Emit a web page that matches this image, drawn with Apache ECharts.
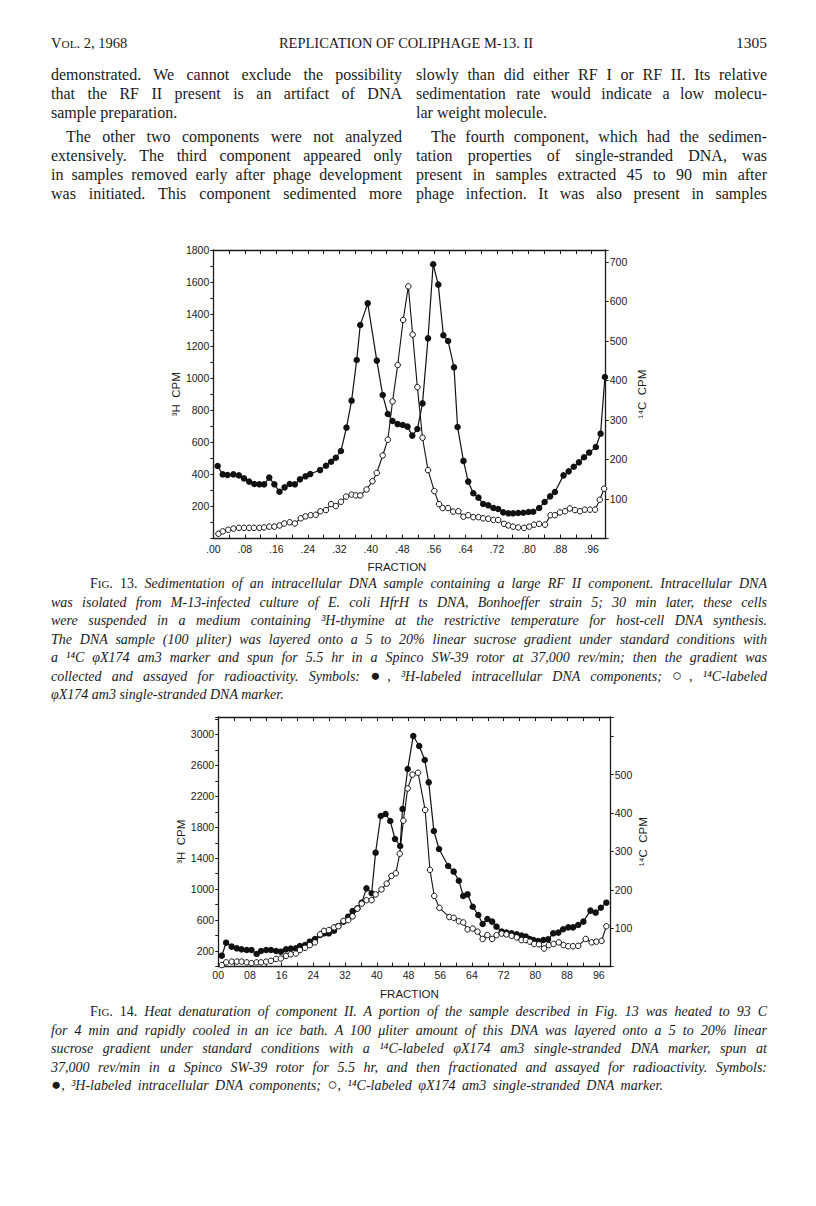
<!DOCTYPE html>
<html>
<head>
<meta charset="utf-8">
<script src="https://cdn.jsdelivr.net/npm/echarts@6/dist/echarts.min.js"></script>
<style>
  html, body { margin:0; padding:0; background:#fff; }
  #page { position:relative; width:816px; height:1206px; overflow:hidden; background:#fff; }
  #chart { position:absolute; left:0; top:0; width:816px; height:1206px; }
  .t { position:absolute; white-space:nowrap; color:#1a1a1a; font-family:'Liberation Serif','Times New Roman',serif; }
  .body { font-size:16px; line-height:19px; height:19px; text-align:justify; text-align-last:justify; }
  .cap { font-size:14px; line-height:18px; height:18px; font-style:italic; text-align:justify; text-align-last:justify; }
  .left { text-align:left; text-align-last:left; }
  .sc { font-size:0.78em; }
  .up { font-style:normal; }
  .sym { font-style:normal; font-size:1.2em; line-height:0; }
</style>
</head>
<body>
<div id="page">
  <div id="chart"></div>

  <div class="t" style="left:51px;top:35px;font-size:14.5px;">V<span class="sc">OL</span>. 2, 1968</div>
  <div class="t" style="left:206px;width:400px;top:35px;font-size:14.5px;text-align:center;">REPLICATION OF COLIPHAGE M-13. II</div>
  <div class="t" style="left:667px;width:100px;top:34px;font-size:15.5px;text-align:right;">1305</div>

  <div class="t body" style="left:51px;width:351px;top:65px;">demonstrated. We cannot exclude the possibility</div>
  <div class="t body" style="left:51px;width:351px;top:84px;">that the RF II present is an artifact of DNA</div>
  <div class="t body left" style="left:51px;width:351px;top:103px;">sample preparation.</div>
  <div class="t body" style="left:66px;width:336px;top:127px;">The other two components were not analyzed</div>
  <div class="t body" style="left:51px;width:351px;top:146px;">extensively. The third component appeared only</div>
  <div class="t body" style="left:51px;width:351px;top:165px;">in samples removed early after phage development</div>
  <div class="t body" style="left:51px;width:351px;top:184px;">was initiated. This component sedimented more</div>

  <div class="t body" style="left:416px;width:351px;top:65px;">slowly than did either RF I or RF II. Its relative</div>
  <div class="t body" style="left:416px;width:351px;top:84px;">sedimentation rate would indicate a low molecu-</div>
  <div class="t body left" style="left:416px;width:351px;top:103px;">lar weight molecule.</div>
  <div class="t body" style="left:431px;width:336px;top:127px;">The fourth component, which had the sedimen-</div>
  <div class="t body" style="left:416px;width:351px;top:146px;">tation properties of single-stranded DNA, was</div>
  <div class="t body" style="left:416px;width:351px;top:165px;">present in samples extracted 45 to 90 min after</div>
  <div class="t body" style="left:416px;width:351px;top:184px;">phage infection. It was also present in samples</div>

  <div class="t cap" style="left:90px;width:677px;top:575px;"><span class="up">F<span class="sc">IG</span>. 13.</span> Sedimentation of an intracellular DNA sample containing a large RF II component. Intracellular DNA</div>
  <div class="t cap" style="left:51px;width:716px;top:593.5px;">was isolated from M-13-infected culture of E. coli HfrH ts DNA, Bonhoeffer strain 5; 30 min later, these cells</div>
  <div class="t cap" style="left:51px;width:716px;top:612px;">were suspended in a medium containing ³H-thymine at the restrictive temperature for host-cell DNA synthesis.</div>
  <div class="t cap" style="left:51px;width:716px;top:630.5px;">The DNA sample (100 μliter) was layered onto a 5 to 20% linear sucrose gradient under standard conditions with</div>
  <div class="t cap" style="left:51px;width:716px;top:649px;">a ¹⁴C φX174 am3 marker and spun for 5.5 hr in a Spinco SW-39 rotor at 37,000 rev/min; then the gradient was</div>
  <div class="t cap" style="left:51px;width:716px;top:667.5px;">collected and assayed for radioactivity. Symbols: <span class="sym">●</span>, ³H-labeled intracellular DNA components; <span class="sym">○</span>, ¹⁴C-labeled</div>
  <div class="t cap left" style="left:51px;width:716px;top:686px;">φX174 am3 single-stranded DNA marker.</div>

  <div class="t cap" style="left:90px;width:677px;top:1003px;"><span class="up">F<span class="sc">IG</span>. 14.</span> Heat denaturation of component II. A portion of the sample described in Fig. 13 was heated to 93 C</div>
  <div class="t cap" style="left:51px;width:716px;top:1021.5px;">for 4 min and rapidly cooled in an ice bath. A 100 μliter amount of this DNA was layered onto a 5 to 20% linear</div>
  <div class="t cap" style="left:51px;width:716px;top:1040px;">sucrose gradient under standard conditions with a ¹⁴C-labeled φX174 am3 single-stranded DNA marker, spun at</div>
  <div class="t cap" style="left:51px;width:716px;top:1058.5px;">37,000 rev/min in a Spinco SW-39 rotor for 5.5 hr, and then fractionated and assayed for radioactivity. Symbols:</div>
  <div class="t cap left" style="left:51px;width:716px;top:1077px;word-spacing:3px;"><span class="sym">●</span>, ³H-labeled intracellular DNA components; <span class="sym">○</span>, ¹⁴C-labeled φX174 am3 single-stranded DNA marker.</div>
</div>

<script>
// ---------- Fig. 13 data ----------
const fig13_fraction_H = [0.011,0.024,0.036,0.051,0.065,0.078,0.091,0.104,0.117,0.129,
  0.142,0.155,0.168,0.181,0.194,0.207,0.220,0.234,0.246,0.271,
  0.286,0.299,0.311,0.324,0.338,0.351,0.364,0.373,0.392,0.415,
  0.430,0.443,0.455,0.468,0.481,0.493,0.505,0.518,0.531,0.545,
  0.558,0.571,0.584,0.596,0.611,0.620,0.635,0.647,0.660,0.673,
  0.685,0.698,0.711,0.723,0.736,0.749,0.761,0.774,0.787,0.800,
  0.812,0.827,0.841,0.855,0.867,0.889,0.902,0.915,0.928,0.941,
  0.954,0.971,0.983,0.994];
const fig13_H_cpm = [452,400,396,400,394,375,355,340,338,338,
  380,338,292,319,340,338,369,388,402,427,
  454,479,504,546,692,860,1114,1332,1467,1110,
  895,777,733,714,708,698,642,683,843,1249,
  1711,1584,1268,1232,1068,696,484,355,282,255,
  215,207,190,184,163,157,157,159,161,165,
  167,190,228,263,290,394,419,448,475,507,
  536,571,654,1008];
const fig13_fraction_C = [0.013,0.024,0.038,0.051,0.065,0.078,0.091,0.103,0.117,0.129,
  0.142,0.155,0.168,0.180,0.194,0.207,0.222,0.234,0.247,0.260,
  0.272,0.286,0.299,0.311,0.324,0.337,0.351,0.362,0.373,0.389,
  0.404,0.415,0.430,0.443,0.455,0.468,0.482,0.495,0.506,0.518,
  0.531,0.545,0.561,0.573,0.582,0.596,0.609,0.622,0.635,0.647,
  0.660,0.673,0.685,0.698,0.711,0.723,0.738,0.749,0.761,0.774,
  0.789,0.802,0.814,0.827,0.842,0.856,0.867,0.880,0.893,0.905,
  0.918,0.931,0.943,0.956,0.969,0.981,0.992];
const fig13_C_cpm = [12,18,22,25,27,27,27,27,27,28,
  30,30,33,38,41,38,51,56,59,60,
  69,72,87,82,93,106,111,109,109,124,
  145,166,210,250,347,439,553,638,516,383,
  255,173,120,87,77,77,68,69,55,59,
  54,54,51,50,47,47,37,33,30,28,
  27,30,35,37,35,59,59,66,69,76,
  72,69,73,73,73,98,126];

// ---------- Fig. 14 data ----------
const fig14_fraction_H = [0.009,0.020,0.034,0.047,0.059,0.072,0.084,0.097,0.108,0.121,
  0.133,0.146,0.158,0.171,0.183,0.196,0.206,0.219,0.231,0.244,
  0.257,0.267,0.279,0.292,0.303,0.316,0.328,0.339,0.351,0.362,
  0.374,0.387,0.397,0.410,0.422,0.434,0.446,0.459,0.465,0.478,
  0.492,0.507,0.521,0.531,0.544,0.557,0.580,0.594,0.607,0.618,
  0.629,0.642,0.656,0.667,0.679,0.691,0.702,0.715,0.727,0.740,
  0.753,0.765,0.776,0.786,0.795,0.807,0.820,0.832,0.845,0.858,
  0.870,0.883,0.895,0.908,0.921,0.939,0.952,0.965,0.979];
const fig14_H_cpm = [141,309,258,236,223,214,214,163,202,214,
  214,202,193,223,232,236,266,279,322,357,
  408,430,430,464,525,581,645,718,753,826,
  1011,947,1472,1946,1972,1881,1649,1558,2036,2553,
  2980,2850,2669,2381,1752,1519,1300,1227,1110,912,
  934,774,667,550,615,581,516,452,439,430,
  417,400,387,357,344,331,344,352,430,439,
  482,507,507,538,581,723,697,761,826];
const fig14_fraction_C = [0.009,0.020,0.034,0.047,0.059,0.072,0.084,0.097,0.108,0.121,
  0.133,0.146,0.158,0.171,0.183,0.196,0.206,0.219,0.231,0.244,
  0.257,0.267,0.279,0.292,0.303,0.316,0.328,0.339,0.351,0.362,
  0.374,0.387,0.397,0.412,0.425,0.437,0.448,0.458,0.467,0.478,
  0.490,0.504,0.522,0.534,0.545,0.558,0.583,0.594,0.607,0.618,
  0.629,0.642,0.654,0.667,0.679,0.691,0.702,0.715,0.727,0.740,
  0.753,0.765,0.776,0.786,0.797,0.809,0.822,0.834,0.846,0.859,
  0.871,0.883,0.895,0.908,0.927,0.942,0.954,0.967,0.979];
const fig14_C_cpm = [4,11,13,13,13,11,9,11,11,13,
  15,20,21,28,32,34,43,49,56,63,
  84,93,95,102,105,119,121,131,151,164,
  173,173,188,201,216,236,243,294,380,464,
  500,505,408,252,184,153,129,127,118,115,
  97,99,91,72,82,72,82,86,84,80,
  76,69,69,65,59,58,47,56,59,63,
  56,53,53,54,72,63,65,67,105];

// ---------- axis labels ----------
const xTitle = 'FRACTION';
const yTitleH = '³H  CPM';
const yTitleC = '¹⁴C  CPM';

const INK = '#1a1a1a';
const labelFont = { color: INK, fontFamily: 'Liberation Sans, Arial, sans-serif', fontSize: 10.5 };
const nameFont = { color: INK, fontFamily: 'Liberation Sans, Arial, sans-serif', fontSize: 11.5 };
const zip = (xs, ys) => xs.map((x, i) => [x, ys[i]]);

function xBottom(grid, max, dot, gap, padRight, margin) {
  return {
    gridIndex: grid, type: 'value', position: 'bottom', min: 0, max: max, interval: 0.04,
    axisLine: { onZero: false, lineStyle: { color: INK, width: 1.3 } },
    axisTick: { inside: true, length: 4, lineStyle: { color: INK, width: 1 } },
    splitLine: { show: false },
    axisLabel: Object.assign({}, labelFont, {
      margin: margin, showMaxLabel: false,
      formatter: v => { const h = Math.round(v * 100); return (h % 8 === 0 && h < 100) ? (dot ? '.' : '') + String(h).padStart(2, '0') : ''; }
    }),
    name: xTitle, nameLocation: 'middle', nameGap: gap,
    nameTextStyle: Object.assign({}, nameFont, { padding: [0, padRight, 0, 0] })
  };
}
function xTop(grid, max) {
  return {
    gridIndex: grid, type: 'value', position: 'top', min: 0, max: max, interval: 0.04,
    axisLine: { onZero: false, lineStyle: { color: INK, width: 1.3 } },
    axisTick: { inside: true, length: 4, lineStyle: { color: INK, width: 1 } },
    axisLabel: { show: false }, splitLine: { show: false }
  };
}
function yAxis(grid, pos, max, interval, fmt, name, gap) {
  return {
    gridIndex: grid, type: 'value', position: pos, min: 0, max: max, interval: interval,
    axisLine: { show: true, onZero: false, lineStyle: { color: INK, width: 1.3 } },
    axisTick: { show: true, inside: false, length: 3, lineStyle: { color: INK, width: 1 } },
    splitLine: { show: false },
    axisLabel: Object.assign({}, labelFont, { margin: 4, showMaxLabel: true, formatter: fmt }),
    name: name, nameLocation: 'middle', nameRotate: 90, nameGap: gap, nameTextStyle: nameFont
  };
}
const filled = (xi, yi, data) => ({
  type: 'line', xAxisIndex: xi, yAxisIndex: yi, data: data, symbol: 'circle', symbolSize: 6.5,
  showAllSymbol: true, itemStyle: { color: '#111' }, lineStyle: { color: '#111', width: 1.2 }, z: 3
});
const open = (xi, yi, data) => ({
  type: 'line', xAxisIndex: xi, yAxisIndex: yi, data: data, symbol: 'circle', symbolSize: 5.5,
  showAllSymbol: true, itemStyle: { color: '#fff', borderColor: '#111', borderWidth: 1 },
  lineStyle: { color: '#111', width: 1.1 }, z: 4
});

const chart = echarts.init(document.getElementById('chart'), null, { renderer: 'svg', width: 816, height: 1206 });
chart.setOption({
  animation: false,
  backgroundColor: 'transparent',
  grid: [
    { left: 213.3, top: 250, width: 392.4, height: 288.5 },
    { left: 218.2, top: 717, width: 392.5, height: 249.6 }
  ],
  xAxis: [ xBottom(0, 0.996, true, 22, 25, 4.5), xTop(0, 0.996), xBottom(1, 0.99, false, 21, 10, 3), xTop(1, 0.99) ],
  yAxis: [
    yAxis(0, 'left', 1800, 100, v => (v > 0 && v % 200 === 0) ? String(v) : '', yTitleH, 31),
    yAxis(0, 'right', 730, 100, v => (v > 0 && v <= 700) ? String(v) : '', yTitleC, 30),
    yAxis(1, 'left', 3225, 200, v => ((v - 200) % 400 === 0 && v > 0 && v <= 3000) ? String(v) : '', yTitleH, 30),
    yAxis(1, 'right', 650, 100, v => (v > 0 && v <= 500) ? String(v) : '', yTitleC, 26)
  ],
  series: [
    filled(0, 0, zip(fig13_fraction_H, fig13_H_cpm)),
    open(0, 1, zip(fig13_fraction_C, fig13_C_cpm)),
    filled(2, 2, zip(fig14_fraction_H, fig14_H_cpm)),
    open(2, 3, zip(fig14_fraction_C, fig14_C_cpm))
  ]
});
</script>
</body>
</html>
